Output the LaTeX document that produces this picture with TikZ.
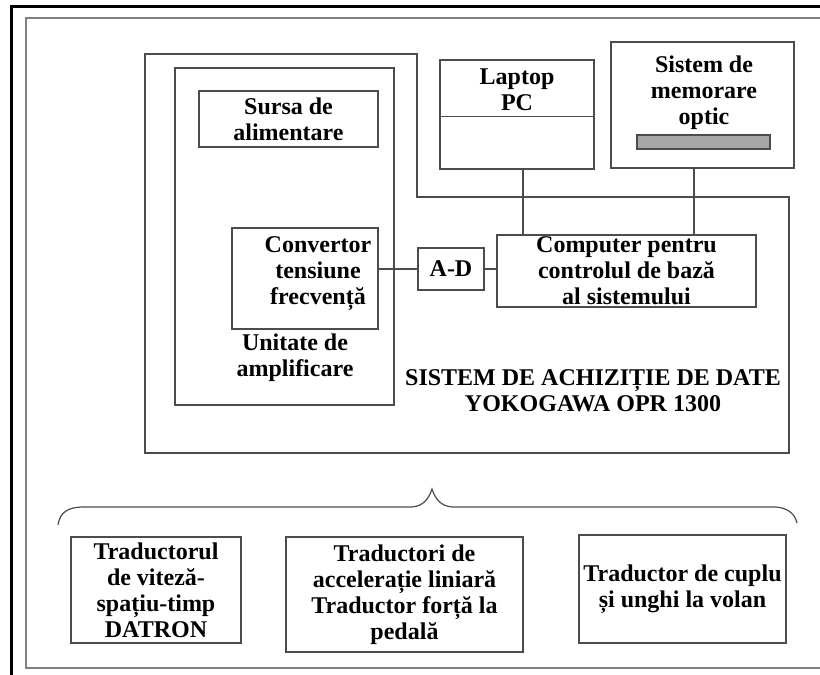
\documentclass[tikz,border=0pt]{standalone}
\usepackage{fontspec}
\setmainfont{Liberation Serif}
\usepackage{tikz}

\begin{document}
\begin{tikzpicture}[x=1pt,y=-1pt,font=\bfseries\fontsize{24}{26}\selectfont,
	box/.style={draw=black!70,line width=1.2pt,align=center,inner sep=0pt},
	lbl/.style={align=center,inner sep=0pt},
	wire/.style={draw=black!70,line width=1.2pt}]
		\useasboundingbox (0,0) rectangle (820,675);
		% frames
		\draw[line width=3pt] (11,700) -- (11,6) -- (850,6);
		\draw[black!50,line width=2pt] (850,668) -- (26,668) -- (26,18) -- (850,18);
		\draw[wire] (145,54) -- (417,54) -- (417,197) -- (789,197) -- (789,453) -- (145,453) -- cycle;
		% amplification unit
		\node (amp) [box, minimum width=219, minimum height=337] at (284.5,236.5) {};
		\node (src) [box, minimum width=179, minimum height=56] at (288.5,119) {Sursa de\\alimentare};
		\node (conv) [box, minimum width=146, minimum height=101] at (305,278.5) {};
		\node (convt) [lbl] at (318,274) {Convertor\\tensiune\\frecvență};
		\node (ampt) [lbl] at (295,358) {Unitate de\\amplificare};
		% acquisition
		\node (ad) [box, minimum width=66, minimum height=42] at (451,269) {A-D};
		\node (comp) [box, minimum width=259, minimum height=72] at (626.5,271) {Computer pentru\\controlul de bază\\al sistemului};
		\node (pc) [box, minimum width=154, minimum height=109] at (517,114.5) {};
		\node (pct) [lbl] at (517,90) {Laptop\\PC};
		\node (mem) [box, minimum width=183, minimum height=126] at (702.5,105) {};
		\node (memt) [lbl] at (704,93) {Sistem de\\memorare\\optic};
		\node (disc) [box, fill=black!35, minimum width=133, minimum height=14] at (703.5,142) {};
		\node (sys) [lbl] at (593,391) {SISTEM DE ACHIZIȚIE DE DATE\\YOKOGAWA OPR 1300};
		\draw[wire] ([yshift=-57pt]pc.north west) -- ([yshift=-57pt]pc.north east);
		\draw[wire] (ad.west -| conv.east) -- (ad.west);
		\draw[wire] (ad.east) -- (ad.east -| comp.west);
		\draw[wire] ([xshift=6pt]pc.south) -- ([xshift=6pt]pc.south |- comp.north);
		\draw[wire] ([xshift=-8.5pt]mem.south) -- ([xshift=-8.5pt]mem.south |- comp.north);
		% transducers
		\draw[wire] (58,525) .. controls (60,512) and (68,507) .. (84,507) -- (412,507)
			.. controls (424,506) and (429,498) .. (432,489)
			.. controls (435,498) and (440,506) .. (452,507) -- (776,507)
			.. controls (788,508) and (795,514) .. (797,523);
		\node (t1) [box, minimum width=170, minimum height=106] at (156,590) {Traductorul\\de viteză-\\spațiu-timp\\DATRON};
		\node (t2) [box, minimum width=237, minimum height=115] at (404.5,594.5) {Traductori de\\accelerație liniară\\Traductor forță la\\pedală};
		\node (t3) [box, minimum width=207, minimum height=108] at (682.5,589) {Traductor de cuplu\\și unghi la volan};
\end{tikzpicture}
\end{document}
